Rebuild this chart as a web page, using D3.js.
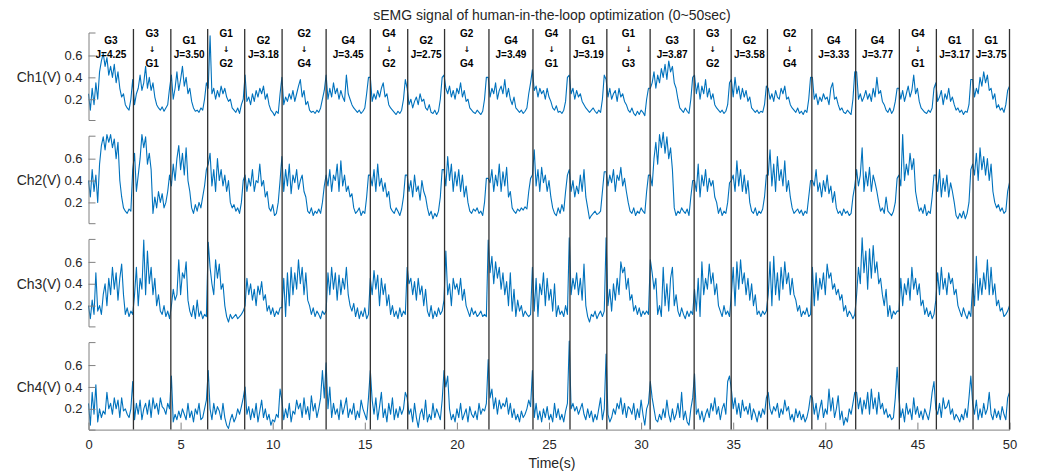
<!DOCTYPE html>
<html><head><meta charset="utf-8">
<script src="https://cdn.jsdelivr.net/npm/d3@7"></script>
<style>
body{margin:0;background:#fff}
svg text{font-family:Arial,"Liberation Sans",Helvetica,sans-serif}
</style>
</head><body>
<svg id="chart" width="1038" height="472"></svg>
<script>
// ---------------- data ----------------
const sampleStep = 0.1; // seconds between samples
const boundaries = [2.44, 4.47, 6.47, 8.48, 10.51, 12.90, 15.30, 17.33, 19.33, 21.74, 24.13, 26.14, 28.14, 30.49, 32.88, 34.89, 36.86, 39.27, 41.65, 44.02, 46.03, 48.02, 50];
const segmentLabels = [
  ["G3","J=4.25"], ["G3","↓","G1"], ["G1","J=3.50"], ["G1","↓","G2"], ["G2","J=3.18"], ["G2","↓","G4"],
  ["G4","J=3.45"], ["G4","↓","G2"], ["G2","J=2.75"], ["G2","↓","G4"], ["G4","J=3.49"], ["G4","↓","G1"],
  ["G1","J=3.19"], ["G1","↓","G3"], ["G3","J=3.87"], ["G3","↓","G2"], ["G2","J=3.58"], ["G2","↓","G4"],
  ["G4","J=3.33"], ["G4","J=3.77"], ["G4","↓","G1"], ["G1","J=3.17"], ["G1","J=3.75"]
];
const channelNames = ["Ch1(V)", "Ch2(V)", "Ch3(V)", "Ch4(V)"];
const yTickValues = [0.2, 0.4, 0.6];
const xTickValues = [0, 5, 10, 15, 20, 25, 30, 35, 40, 45, 50];
const titleText = "sEMG signal of human-in-the-loop optimization (0~50sec)";
const xLabelText = "Time(s)";

const ch1 = [
0.25,0.1,0.3,0.15,0.35,0.2,0.45,0.55,0.62,0.5,0.58,0.42,0.5,0.4,0.52,0.35,0.45,0.3,0.22,0.25,0.15,0.12,0.1,0.2,
0.38,0.15,0.25,0.3,0.42,0.28,0.35,0.5,0.3,0.4,0.28,0.35,0.22,0.15,0.12,0.1,0.13,0.09,0.12,0.15,0.3,
0.42,0.2,0.3,0.45,0.28,0.38,0.5,0.32,0.4,0.25,0.3,0.18,0.12,0.09,0.1,0.08,0.12,0.1,0.2,0.35,
0.3,0.78,0.25,0.3,0.2,0.28,0.22,0.32,0.25,0.3,0.22,0.18,0.2,0.12,0.1,0.08,0.12,0.07,0.15,0.2,
0.42,0.18,0.22,0.15,0.25,0.18,0.28,0.22,0.3,0.25,0.32,0.2,0.25,0.15,0.1,0.08,0.05,0.09,0.07,0.25,
0.4,0.15,0.22,0.18,0.25,0.2,0.28,0.18,0.25,0.32,0.38,0.22,0.28,0.15,0.18,0.1,0.08,0.09,0.07,0.1,0.08,0.12,0.2,0.28,
0.42,0.2,0.3,0.22,0.35,0.25,0.3,0.2,0.28,0.22,0.18,0.42,0.25,0.2,0.15,0.12,0.1,0.08,0.1,0.07,0.09,0.12,0.25,0.4,
0.4,0.18,0.25,0.2,0.28,0.22,0.3,0.35,0.22,0.25,0.15,0.12,0.1,0.08,0.06,0.09,0.07,0.1,0.2,0.38,
0.3,0.15,0.2,0.12,0.18,0.22,0.15,0.25,0.18,0.2,0.12,0.1,0.15,0.08,0.07,0.1,0.06,0.09,0.2,0.4,
0.42,0.3,0.25,0.32,0.22,0.28,0.2,0.3,0.25,0.35,0.22,0.28,0.18,0.2,0.12,0.1,0.08,0.07,0.1,0.08,0.06,0.09,0.2,0.4,
0.4,0.22,0.3,0.25,0.35,0.2,0.28,0.32,0.25,0.38,0.22,0.3,0.2,0.15,0.22,0.12,0.1,0.08,0.1,0.07,0.09,0.12,0.25,0.35,
0.47,0.28,0.32,0.22,0.3,0.25,0.28,0.2,0.3,0.22,0.18,0.12,0.1,0.14,0.08,0.09,0.07,0.1,0.18,0.4,
0.42,0.25,0.3,0.2,0.28,0.22,0.25,0.18,0.15,0.12,0.1,0.08,0.1,0.12,0.09,0.07,0.1,0.08,0.2,0.42,
0.38,0.22,0.3,0.2,0.25,0.28,0.18,0.3,0.22,0.25,0.18,0.15,0.1,0.08,0.12,0.07,0.05,0.09,0.06,0.1,0.08,0.05,0.2,0.3,
0.3,0.35,0.45,0.3,0.42,0.35,0.48,0.4,0.52,0.38,0.55,0.45,0.5,0.35,0.3,0.2,0.12,0.1,0.08,0.12,0.09,0.07,0.2,0.4,
0.42,0.25,0.35,0.2,0.32,0.25,0.38,0.22,0.3,0.2,0.25,0.15,0.12,0.1,0.08,0.1,0.07,0.09,0.15,0.35,
0.38,0.22,0.4,0.25,0.32,0.2,0.3,0.22,0.28,0.18,0.22,0.12,0.1,0.08,0.1,0.07,0.09,0.08,0.15,0.32,
0.3,0.2,0.25,0.18,0.28,0.22,0.2,0.3,0.25,0.32,0.2,0.22,0.15,0.12,0.1,0.08,0.12,0.07,0.09,0.06,0.1,0.08,0.2,0.4,
0.4,0.2,0.25,0.15,0.22,0.18,0.25,0.2,0.22,0.15,0.3,0.35,0.2,0.22,0.15,0.1,0.12,0.08,0.07,0.1,0.08,0.06,0.2,0.45,
0.45,0.2,0.25,0.18,0.22,0.28,0.2,0.25,0.18,0.3,0.22,0.4,0.25,0.28,0.18,0.15,0.1,0.08,0.12,0.07,0.1,0.18,0.3,
0.3,0.2,0.28,0.18,0.25,0.32,0.22,0.28,0.42,0.25,0.3,0.18,0.12,0.1,0.08,0.07,0.1,0.08,0.12,0.3,
0.35,0.18,0.22,0.28,0.15,0.25,0.2,0.3,0.18,0.22,0.15,0.1,0.12,0.08,0.1,0.06,0.09,0.08,0.15,0.38,
0.38,0.22,0.3,0.25,0.4,0.32,0.45,0.35,0.42,0.28,0.3,0.2,0.25,0.12,0.15,0.1,0.12,0.08,0.15,0.28,0.32
];
const ch2 = [
0.4,0.25,0.5,0.3,0.45,0.2,0.55,0.72,0.8,0.68,0.82,0.75,0.82,0.7,0.78,0.6,0.75,0.4,0.25,0.15,0.12,0.1,0.14,0.12,
0.5,0.65,0.3,0.45,0.6,0.82,0.7,0.8,0.55,0.65,0.5,0.1,0.25,0.15,0.3,0.2,0.28,0.15,0.2,0.3,0.45,
0.35,0.55,0.4,0.6,0.72,0.5,0.65,0.45,0.7,0.4,0.3,0.15,0.1,0.18,0.12,0.2,0.15,0.25,0.35,0.5,
0.55,0.65,0.35,0.5,0.3,0.6,0.4,0.5,0.35,0.45,0.3,0.4,0.2,0.15,0.18,0.12,0.15,0.1,0.2,0.4,
0.45,0.3,0.42,0.35,0.5,0.3,0.4,0.38,0.55,0.35,0.4,0.25,0.3,0.15,0.12,0.18,0.08,0.1,0.2,0.4,
0.62,0.3,0.5,0.35,0.55,0.28,0.45,0.38,0.5,0.32,0.4,0.45,0.3,0.25,0.12,0.1,0.15,0.08,0.12,0.1,0.14,0.1,0.2,0.35,
0.45,0.35,0.5,0.3,0.45,0.4,0.55,0.3,0.58,0.35,0.45,0.3,0.35,0.25,0.28,0.15,0.1,0.12,0.15,0.08,0.12,0.1,0.25,0.45,
0.45,0.35,0.5,0.3,0.55,0.35,0.42,0.3,0.38,0.25,0.3,0.15,0.12,0.1,0.15,0.12,0.08,0.14,0.25,0.45,
0.45,0.3,0.4,0.25,0.45,0.3,0.35,0.22,0.4,0.3,0.25,0.15,0.08,0.12,0.05,0.1,0.07,0.12,0.25,0.5,
0.5,0.35,0.62,0.4,0.55,0.3,0.48,0.35,0.5,0.3,0.45,0.25,0.35,0.2,0.12,0.1,0.14,0.12,0.15,0.1,0.12,0.08,0.2,0.42,
0.42,0.38,0.5,0.3,0.45,0.35,0.55,0.3,0.48,0.35,0.52,0.25,0.3,0.15,0.12,0.1,0.14,0.12,0.15,0.13,0.16,0.14,0.3,0.42,
0.45,0.68,0.35,0.5,0.3,0.52,0.38,0.45,0.3,0.4,0.25,0.15,0.1,0.08,0.15,0.1,0.18,0.12,0.3,0.45,
0.5,0.3,0.4,0.25,0.35,0.28,0.45,0.3,0.5,0.25,0.15,0.05,0.08,0.1,0.12,0.09,0.1,0.12,0.3,0.48,
0.48,0.35,0.45,0.38,0.5,0.3,0.45,0.4,0.52,0.35,0.42,0.3,0.2,0.12,0.1,0.15,0.08,0.12,0.1,0.15,0.12,0.1,0.3,0.45,
0.45,0.35,0.6,0.75,0.55,0.82,0.7,0.84,0.65,0.8,0.6,0.7,0.5,0.15,0.08,0.12,0.1,0.15,0.12,0.1,0.14,0.08,0.25,0.4,
0.4,0.3,0.55,0.25,0.45,0.35,0.5,0.3,0.42,0.35,0.4,0.25,0.2,0.1,0.15,0.08,0.12,0.1,0.2,0.38,
0.4,0.45,0.3,0.58,0.35,0.5,0.3,0.45,0.28,0.4,0.2,0.12,0.1,0.15,0.08,0.12,0.1,0.14,0.25,0.45,
0.45,0.68,0.35,0.55,0.3,0.62,0.4,0.5,0.35,0.58,0.3,0.4,0.25,0.15,0.1,0.12,0.14,0.1,0.13,0.08,0.12,0.1,0.25,0.4,
0.4,0.35,0.5,0.3,0.38,0.25,0.4,0.3,0.45,0.28,0.35,0.2,0.3,0.15,0.1,0.12,0.08,0.14,0.1,0.12,0.08,0.1,0.25,0.35,
0.5,0.35,0.45,0.7,0.3,0.48,0.35,0.52,0.3,0.45,0.38,0.3,0.2,0.12,0.15,0.1,0.25,0.12,0.1,0.08,0.12,0.2,0.42,
0.45,0.35,0.82,0.4,0.55,0.45,0.65,0.5,0.6,0.3,0.2,0.12,0.15,0.1,0.18,0.08,0.12,0.1,0.25,0.45,
0.45,0.3,0.5,0.25,0.42,0.3,0.45,0.25,0.38,0.3,0.2,0.08,0.05,0.1,0.06,0.12,0.05,0.1,0.2,0.5,
0.55,0.45,0.65,0.4,0.7,0.5,0.62,0.45,0.6,0.4,0.55,0.3,0.2,0.15,0.18,0.12,0.15,0.1,0.12,0.3,0.38
];
const ch3 = [
0.2,0.08,0.25,0.12,0.5,0.15,0.2,0.12,0.3,0.4,0.2,0.45,0.3,0.55,0.35,0.5,0.25,0.45,0.58,0.3,0.12,0.18,0.1,0.15,
0.12,0.3,0.55,0.2,0.45,0.35,0.8,0.3,0.7,0.4,0.55,0.3,0.45,0.2,0.3,0.15,0.12,0.2,0.1,0.15,0.08,
0.2,0.35,0.25,0.3,0.62,0.3,0.5,0.45,0.6,0.25,0.15,0.1,0.2,0.08,0.25,0.1,0.15,0.08,0.12,0.1,
0.78,0.55,0.4,0.3,0.62,0.45,0.58,0.35,0.4,0.2,0.1,0.05,0.12,0.08,0.1,0.12,0.08,0.1,0.12,0.15,
0.2,0.45,0.3,0.4,0.25,0.35,0.2,0.38,0.3,0.42,0.25,0.3,0.15,0.2,0.12,0.18,0.1,0.15,0.12,0.18,
0.18,0.45,0.1,0.5,0.2,0.55,0.3,0.5,0.35,0.62,0.4,0.55,0.3,0.5,0.25,0.2,0.12,0.18,0.1,0.15,0.12,0.08,0.15,0.12,
0.15,0.5,0.3,0.55,0.35,0.5,0.25,0.48,0.3,0.45,0.35,0.55,0.3,0.2,0.15,0.22,0.1,0.18,0.08,0.15,0.1,0.18,0.08,0.12,
0.45,0.3,0.52,0.35,0.48,0.2,0.45,0.3,0.4,0.2,0.3,0.12,0.2,0.1,0.15,0.08,0.18,0.1,0.15,0.12,
0.55,0.4,0.45,0.3,0.42,0.25,0.45,0.3,0.38,0.2,0.35,0.15,0.1,0.2,0.08,0.15,0.1,0.18,0.12,0.15,
0.25,0.7,0.3,0.4,0.2,0.45,0.35,0.4,0.3,0.45,0.25,0.35,0.2,0.15,0.1,0.18,0.12,0.15,0.1,0.12,0.15,0.1,0.12,0.1,
0.8,0.5,0.65,0.4,0.6,0.45,0.55,0.35,0.5,0.3,0.42,0.2,0.5,0.15,0.35,0.1,0.25,0.15,0.2,0.1,0.15,0.12,0.1,0.12,
0.55,0.15,0.45,0.1,0.4,0.3,0.5,0.2,0.45,0.25,0.35,0.15,0.4,0.1,0.2,0.12,0.15,0.1,0.2,0.12,
0.82,0.3,0.45,0.35,0.5,0.3,0.45,0.25,0.58,0.2,0.1,0.05,0.12,0.1,0.15,0.08,0.12,0.15,0.1,0.15,
0.82,0.2,0.35,0.15,0.4,0.25,0.45,0.3,0.6,0.5,0.55,0.35,0.45,0.25,0.3,0.15,0.2,0.12,0.18,0.1,0.15,0.12,0.15,0.12,
0.62,0.5,0.35,0.45,0.12,0.2,0.1,0.55,0.2,0.4,0.15,0.45,0.55,0.2,0.3,0.15,0.1,0.18,0.12,0.08,0.15,0.1,0.15,0.12,
0.35,0.15,0.45,0.1,0.6,0.3,0.45,0.35,0.58,0.4,0.5,0.3,0.4,0.2,0.15,0.1,0.2,0.12,0.15,0.1,
0.3,0.55,0.2,0.6,0.35,0.62,0.4,0.5,0.3,0.45,0.25,0.4,0.2,0.3,0.12,0.15,0.1,0.15,0.12,0.15,
0.3,0.6,0.2,0.65,0.3,0.5,0.25,0.55,0.35,0.6,0.4,0.5,0.3,0.45,0.3,0.25,0.15,0.2,0.1,0.15,0.12,0.18,0.1,0.12,
0.55,0.2,0.5,0.25,0.45,0.35,0.5,0.3,0.58,0.45,0.5,0.35,0.4,0.3,0.35,0.25,0.3,0.15,0.2,0.1,0.15,0.12,0.08,0.12,
0.3,0.55,0.4,0.82,0.5,0.7,0.35,0.72,0.45,0.75,0.5,0.6,0.4,0.45,0.3,0.2,0.35,0.1,0.2,0.08,0.15,0.12,0.15,
0.15,0.45,0.2,0.4,0.3,0.45,0.25,0.55,0.35,0.45,0.3,0.4,0.2,0.25,0.12,0.18,0.1,0.15,0.08,0.12,
0.25,0.5,0.3,0.55,0.35,0.45,0.3,0.5,0.4,0.45,0.3,0.35,0.2,0.15,0.1,0.18,0.12,0.08,0.15,0.1,
0.4,0.2,0.65,0.25,0.45,0.3,0.5,0.35,0.62,0.3,0.55,0.3,0.4,0.2,0.25,0.15,0.18,0.1,0.12,0.15,0.2
];
const ch4 = [
0.25,0.05,0.35,0.15,0.42,0.08,0.2,0.12,0.18,0.15,0.35,0.2,0.25,0.15,0.3,0.2,0.28,0.12,0.3,0.18,0.2,0.15,0.12,0.2,
0.45,0.1,0.25,0.15,0.28,0.1,0.2,0.25,0.15,0.28,0.12,0.3,0.2,0.25,0.15,0.3,0.22,0.2,0.15,0.25,0.2,
0.5,0.08,0.15,0.1,0.18,0.12,0.2,0.15,0.1,0.25,0.12,0.18,0.08,0.2,0.15,0.25,0.1,0.12,0.2,0.28,
0.55,0.2,0.1,0.25,0.15,0.22,0.18,0.1,0.25,0.12,0.05,0.02,0.1,0.15,0.08,0.12,0.2,0.15,0.22,0.3,
0.4,0.15,0.22,0.1,0.2,0.12,0.25,0.08,0.18,0.28,0.12,0.2,0.1,0.15,0.05,0.1,0.08,0.15,0.12,0.38,
0.28,0.1,0.2,0.12,0.25,0.08,0.18,0.15,0.28,0.2,0.25,0.12,0.3,0.15,0.22,0.1,0.32,0.18,0.25,0.12,0.2,0.3,0.55,0.3,
0.62,0.2,0.4,0.12,0.25,0.15,0.2,0.1,0.28,0.15,0.22,0.3,0.12,0.2,0.15,0.25,0.1,0.18,0.12,0.28,0.2,0.15,0.1,0.3,
0.55,0.28,0.15,0.3,0.1,0.22,0.35,0.12,0.2,0.08,0.25,0.15,0.3,0.1,0.2,0.12,0.22,0.15,0.2,0.35,
0.3,0.15,0.2,0.08,0.25,0.12,0.03,0.15,0.2,0.1,0.28,0.08,0.15,0.1,0.25,0.12,0.2,0.15,0.1,0.28,
0.55,0.4,0.5,0.2,0.1,0.15,0.08,0.2,0.12,0.25,0.1,0.15,0.2,0.08,0.22,0.15,0.12,0.18,0.1,0.25,0.15,0.2,0.18,0.25,
0.65,0.3,0.38,0.2,0.3,0.15,0.28,0.2,0.25,0.22,0.3,0.15,0.25,0.12,0.2,0.1,0.15,0.08,0.18,0.12,0.15,0.2,0.28,0.22,
0.55,0.12,0.25,0.1,0.18,0.08,0.2,0.12,0.22,0.1,0.15,0.08,0.25,0.12,0.2,0.1,0.15,0.08,0.18,0.25,
0.82,0.2,0.25,0.18,0.22,0.15,0.2,0.25,0.15,0.1,0.2,0.12,0.18,0.08,0.15,0.1,0.2,0.3,0.1,0.2,
0.7,0.15,0.08,0.12,0.2,0.15,0.25,0.2,0.3,0.15,0.25,0.12,0.22,0.2,0.15,0.25,0.1,0.2,0.12,0.28,0.15,0.05,0.2,0.25,
0.45,0.3,0.2,0.1,0.08,0.15,0.1,0.2,0.12,0.28,0.15,0.08,0.2,0.1,0.15,0.25,0.12,0.35,0.1,0.18,0.08,0.05,0.2,0.3,
0.52,0.15,0.2,0.1,0.18,0.08,0.15,0.2,0.12,0.25,0.18,0.3,0.15,0.22,0.1,0.2,0.25,0.15,0.45,0.5,
0.38,0.2,0.3,0.15,0.25,0.12,0.28,0.18,0.22,0.15,0.25,0.1,0.2,0.15,0.08,0.18,0.12,0.2,0.15,0.3,
0.35,0.2,0.15,0.22,0.18,0.25,0.12,0.2,0.15,0.28,0.18,0.22,0.1,0.15,0.08,0.2,0.12,0.18,0.1,0.15,0.08,0.12,0.2,0.32,
0.3,0.15,0.25,0.1,0.2,0.28,0.12,0.2,0.15,0.38,0.18,0.3,0.12,0.2,0.32,0.1,0.18,0.05,0.12,0.08,0.2,0.15,0.25,0.35,
0.35,0.2,0.3,0.15,0.28,0.2,0.35,0.15,0.38,0.2,0.3,0.15,0.35,0.2,0.25,0.15,0.2,0.12,0.15,0.1,0.12,0.3,0.58,
0.3,0.12,0.2,0.08,0.25,0.15,0.2,0.1,0.3,0.15,0.22,0.12,0.18,0.1,0.2,0.15,0.1,0.2,0.35,0.45,
0.2,0.15,0.25,0.12,0.3,0.2,0.22,0.28,0.15,0.2,0.1,0.15,0.12,0.08,0.15,0.1,0.2,0.12,0.3,0.5,
0.25,0.15,0.28,0.1,0.2,0.12,0.25,0.15,0.2,0.35,0.15,0.1,0.2,0.12,0.18,0.1,0.22,0.15,0.1,0.3,0.35
];
const channels = [ch1, ch2, ch3, ch4];

// ---------------- layout ----------------
const svg = d3.select("#chart");
const xLeft = 88.5, xRight = 1009.5;
const panelTop0 = 32.5, panelPitch = 103.2, panelH = 87.5;
const yDomain = [0.01, 0.81];
const lineColor = "#0072BD";
const axisColor = "#808080";
const textColor = "#262626";

const x = d3.scaleLinear().domain([0, 50]).range([xLeft, xRight]);

// title
svg.append("text").attr("x", 552).attr("y", 20).attr("text-anchor", "middle")
  .attr("font-size", 14).attr("fill", textColor).text(titleText);

channels.forEach((data, i) => {
  const top = panelTop0 + i * panelPitch;
  const y = d3.scaleLinear().domain(yDomain).range([top + panelH, top]);
  const g = svg.append("g");

  const line = d3.line().x((d, k) => x(k * sampleStep)).y(d => y(d));
  g.append("path").datum(data).attr("d", line)
    .attr("fill", "none").attr("stroke", lineColor).attr("stroke-width", 1.1)
    .attr("stroke-linejoin", "round");

  const ax = d3.axisLeft(y).tickValues(yTickValues).tickFormat(d3.format(".1f"))
    .tickSizeInner(-7).tickSizeOuter(-7).tickPadding(6);
  const ag = g.append("g").attr("transform", `translate(${xLeft},0)`).call(ax);
  ag.select(".domain").attr("stroke", axisColor);
  ag.selectAll(".tick line").attr("stroke", axisColor);
  ag.selectAll(".tick text").attr("fill", textColor).attr("font-size", 13)
    .attr("font-family", "Arial, 'Liberation Sans', sans-serif");

  svg.append("text").attr("x", 61).attr("y", y(0.4)).attr("dy", "0.35em")
    .attr("text-anchor", "end").attr("font-size", 14).attr("fill", textColor)
    .text(channelNames[i]);

  if (i === channels.length - 1) {
    const xa = d3.axisBottom(x).tickValues(xTickValues).tickFormat(d3.format("d"))
      .tickSizeInner(-7).tickSizeOuter(0).tickPadding(10);
    const xg = svg.append("g").attr("transform", `translate(0,${top + panelH})`).call(xa);
    xg.select(".domain").attr("stroke", axisColor);
    xg.selectAll(".tick line").attr("stroke", axisColor);
    xg.selectAll(".tick text").attr("fill", textColor).attr("font-size", 13)
      .attr("font-family", "Arial, 'Liberation Sans', sans-serif");
    svg.append("text").attr("x", 552).attr("y", top + panelH + 38).attr("text-anchor", "middle")
      .attr("font-size", 14).attr("fill", textColor).text(xLabelText);
  }
});

// vertical separators
const lastBottom = panelTop0 + 3 * panelPitch + panelH;
svg.append("g").selectAll("line").data(boundaries).join("line")
  .attr("x1", d => x(d)).attr("x2", d => x(d))
  .attr("y1", 29).attr("y2", lastBottom)
  .attr("stroke", "#303030").attr("stroke-width", 1.3);

// segment labels
const starts = [0, ...boundaries.slice(0, -1)];
const lg = svg.append("g");
segmentLabels.forEach((lab, k) => {
  const cx = x((starts[k] + boundaries[k]) / 2);
  const ys = lab.length === 2 ? [43.5, 57.5] : [36.8, 52, 66.8];
  lab.forEach((t, j) => {
    const isArrow = t === "↓";
    lg.append("text").attr("x", cx).attr("y", ys[j]).attr("text-anchor", "middle")
      .attr("font-size", isArrow ? 8 : 10).attr("font-weight", "bold").attr("fill", "#000")
      .style("font-family", isArrow ? "'DejaVu Sans', 'Liberation Sans', sans-serif" : "Arial, 'Liberation Sans', sans-serif")
      .text(t);
  });
});
</script>
</body></html>
